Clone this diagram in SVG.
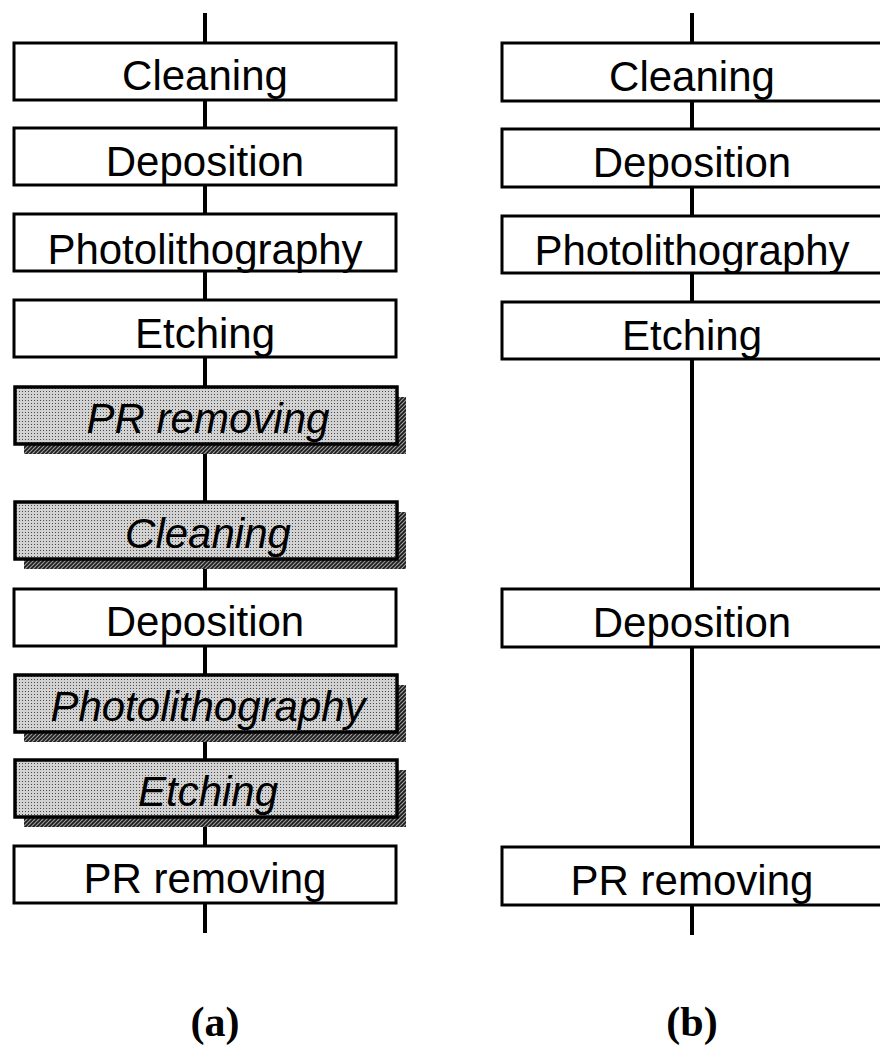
<svg xmlns="http://www.w3.org/2000/svg" width="880" height="1048" viewBox="0 0 880 1048">
<style>
.box{fill:#fff;stroke:#000;stroke-width:3}
.sbox{fill:url(#dots);stroke:#000;stroke-width:3.5}
.shadow{fill:url(#hatch);stroke:none}
.lbl{font-family:"Liberation Sans",Arial,sans-serif;font-size:42px;fill:#000;text-anchor:middle}
.it{font-style:italic}
.line{stroke:#000;stroke-width:4;fill:none}
.cap{font-family:"Liberation Serif","Times New Roman",serif;font-size:42px;font-weight:bold;fill:#000;text-anchor:middle}
</style>
<defs>
<pattern id="dots" width="3" height="3" patternUnits="userSpaceOnUse">
<rect width="3" height="3" fill="#d2d2d2"/>
<rect x="1" y="1" width="1" height="1" fill="#4a4a4a"/>
</pattern>
<pattern id="hatch" width="4" height="4" patternUnits="userSpaceOnUse">
<rect width="4" height="4" fill="#9a9a9a"/>
<path d="M-1,1 L1,-1 M0,4 L4,0 M3,5 L5,3" stroke="#1a1a1a" stroke-width="1.6"/>
</pattern>
</defs>
<rect width="880" height="1048" fill="#fff"/>
<g id="connectors">
<line class="line" x1="205" y1="13" x2="205" y2="933"/>
<line class="line" x1="692" y1="13" x2="692" y2="935"/>
</g>
<g id="a-cleaning"><rect class="box" x="14" y="43" width="382" height="57"/><text class="lbl" x="205" y="90">Cleaning</text></g>
<g id="a-deposition"><rect class="box" x="14" y="128" width="382" height="57"/><text class="lbl" x="205" y="176">Deposition</text></g>
<g id="a-photo"><rect class="box" x="14" y="214" width="382" height="57"/><text class="lbl" x="205" y="264">Photolithography</text></g>
<g id="a-etching"><rect class="box" x="14" y="300" width="382" height="57"/><text class="lbl" x="205" y="348">Etching</text></g>
<g id="a-pr1"><rect class="shadow" x="24" y="397" width="382" height="57"/><rect class="sbox" x="15" y="387" width="382" height="57"/><text class="lbl it" x="208" y="433">PR removing</text></g>
<g id="a-cleaning2"><rect class="shadow" x="24" y="512" width="382" height="57"/><rect class="sbox" x="15" y="502" width="382" height="57"/><text class="lbl it" x="208" y="548">Cleaning</text></g>
<g id="a-deposition2"><rect class="box" x="14" y="589" width="382" height="57"/><text class="lbl" x="205" y="636">Deposition</text></g>
<g id="a-photo2"><rect class="shadow" x="24" y="685" width="382" height="57"/><rect class="sbox" x="15" y="675" width="382" height="57"/><text class="lbl it" x="208" y="721">Photolithography</text></g>
<g id="a-etching2"><rect class="shadow" x="24" y="770" width="382" height="57"/><rect class="sbox" x="15" y="760" width="382" height="57"/><text class="lbl it" x="208" y="806">Etching</text></g>
<g id="a-pr2"><rect class="box" x="14" y="846" width="382" height="57"/><text class="lbl" x="205" y="893">PR removing</text></g>
<g id="b-cleaning"><rect class="box" x="502" y="43" width="400" height="58"/><text class="lbl" x="692" y="91">Cleaning</text></g>
<g id="b-deposition"><rect class="box" x="502" y="129" width="400" height="58"/><text class="lbl" x="692" y="177">Deposition</text></g>
<g id="b-photo"><rect class="box" x="502" y="216" width="400" height="57"/><text class="lbl" x="692" y="265">Photolithography</text></g>
<g id="b-etching"><rect class="box" x="502" y="302" width="400" height="57"/><text class="lbl" x="692" y="350">Etching</text></g>
<g id="b-deposition2"><rect class="box" x="502" y="589" width="400" height="58"/><text class="lbl" x="692" y="637">Deposition</text></g>
<g id="b-pr"><rect class="box" x="502" y="847" width="400" height="58"/><text class="lbl" x="692" y="895">PR removing</text></g>
<g id="captions">
<text class="cap" x="215" y="1036">(a)</text>
<text class="cap" x="692" y="1036">(b)</text>
</g>
</svg>
